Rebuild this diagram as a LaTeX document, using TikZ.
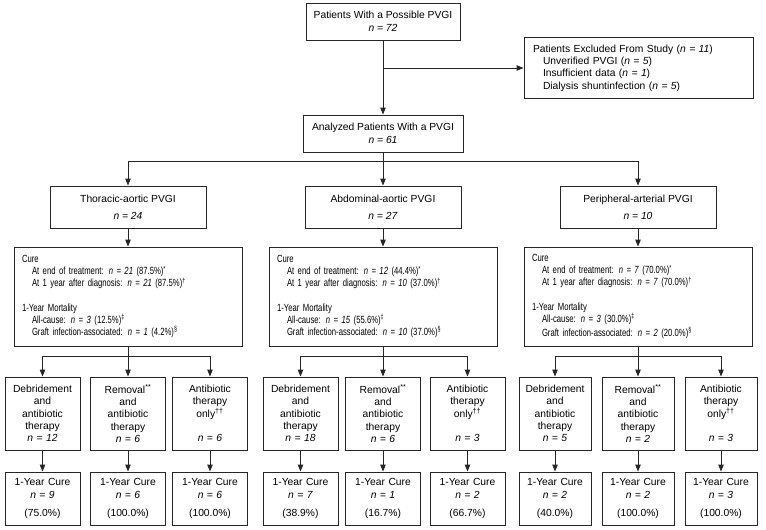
\documentclass[tikz,border=0pt]{standalone}
\usepackage{fontspec}
\setmainfont{Liberation Sans}
\newfontfamily\narrowsans[FakeStretch=0.74]{Liberation Sans}
\usetikzlibrary{arrows.meta}
\newcommand{\nn}[1]{\textit{n = #1}}
\newcommand{\indt}{\hspace*{10pt}}

\begin{document}
\begin{tikzpicture}[x=1pt,y=-1pt,font=\fontsize{10.3}{12.3}\selectfont]
        \tikzstyle{box}=[draw=black!85,line width=0.9pt,align=center,inner sep=2pt]
        \tikzstyle{head}=[box,minimum height=37pt,font=\fontsize{10.3}{13}\selectfont]
        \tikzstyle{group}=[box,minimum width=156pt,minimum height=42pt]
        \tikzstyle{cure}=[box,align=left,text width=212pt,inner xsep=8pt,minimum height=99pt,font=\narrowsans\fontsize{10.4}{12.2}\selectfont]
        \tikzstyle{treat}=[box,text width=71pt,minimum height=73pt]
        \tikzstyle{treatr}=[box,text width=68pt,minimum height=73pt]
        \tikzstyle{result}=[box,text width=71pt,minimum height=53pt]
        \tikzstyle{resultr}=[box,text width=68pt,minimum height=53pt]
        \tikzstyle{line}=[draw=black!85,line width=0.9pt]
        \tikzstyle{arr}=[line,-{Triangle[length=7pt,width=5.5pt]}]
        \useasboundingbox (0,0) rectangle (766,530);

         \node [head,minimum width=154pt] (possible) at (383,21.5) {Patients With a Possible PVGI\\\nn{72}};
         \node [box,align=left,text width=211pt,inner xsep=9pt,minimum height=61pt] (excluded) at (638.5,68)
           {Patients Excluded From Study (\nn{11})\\
            \indt Unverified PVGI (\nn{5})\\
            \indt Insufficient data (\nn{1})\\
            \indt Dialysis shuntinfection (\nn{5})};
         \node [head,minimum width=160pt] (analyzed) at (383,133.5) {Analyzed Patients With a PVGI\\\nn{61}};
         \coordinate (split) at (383,68);
         \coordinate (b0) at (383,161);

         \node [group] (thoracic) at (128,207) {Thoracic-aortic PVGI\\[5pt]\nn{24}};
         \node [group] (abdominal) at (383,207) {Abdominal-aortic PVGI\\[5pt]\nn{27}};
         \node [group] (peripheral) at (638,207) {Peripheral-arterial PVGI\\[5pt]\nn{10}};

         \node [cure] (cureT) at (128,296.5)
           {Cure\\
            \indt At end of treatment: \nn{21} (87.5\%)\textsuperscript{*}\\
            \indt At 1 year after diagnosis: \nn{21} (87.5\%)\textsuperscript{†}\\[12pt]
            1-Year Mortality\\
            \indt All-cause: \nn{3} (12.5\%)\textsuperscript{‡}\\
            \indt Graft infection-associated: \nn{1} (4.2\%)\textsuperscript{§}};
         \node [cure] (cureA) at (383,296.5)
           {Cure\\
            \indt At end of treatment: \nn{12} (44.4\%)\textsuperscript{*}\\
            \indt At 1 year after diagnosis: \nn{10} (37.0\%)\textsuperscript{†}\\[12pt]
            1-Year Mortality\\
            \indt All-cause: \nn{15} (55.6\%)\textsuperscript{‡}\\
            \indt Graft infection-associated: \nn{10} (37.0\%)\textsuperscript{§}};
         \node [cure] (cureP) at (638,296.5)
           {Cure\\
            \indt At end of treatment: \nn{7} (70.0\%)\textsuperscript{*}\\
            \indt At 1 year after diagnosis: \nn{7} (70.0\%)\textsuperscript{†}\\[12pt]
            1-Year Mortality\\
            \indt All-cause: \nn{3} (30.0\%)\textsuperscript{‡}\\[2pt]
            \indt Graft infection-associated: \nn{2} (20.0\%)\textsuperscript{§}};
         \coordinate (bT) at (128,356);
         \coordinate (bA) at (383,356);
         \coordinate (bP) at (638,356);

         \node [treat] (debT) at (42.5,413.5) {Debridement\\and\\antibiotic\\therapy\\\nn{12}};
         \node [treat] (remT) at (128,413.5) {Removal\textsuperscript{**}\\and\\antibiotic\\therapy\\\nn{6}};
         \node [treat] (antT) at (210,413.5) {Antibiotic\\therapy\\only\textsuperscript{††}\\~\\\nn{6}};
         \node [treat] (debA) at (300.5,413.5) {Debridement\\and\\antibiotic\\therapy\\\nn{18}};
         \node [treat] (remA) at (383,413.5) {Removal\textsuperscript{**}\\and\\antibiotic\\therapy\\\nn{6}};
         \node [treat] (antA) at (467.5,413.5) {Antibiotic\\therapy\\only\textsuperscript{††}\\~\\\nn{3}};
         \node [treatr] (debP) at (555,413.5) {Debridement\\and\\antibiotic\\therapy\\\nn{5}};
         \node [treatr] (remP) at (638,413.5) {Removal\textsuperscript{**}\\and\\antibiotic\\therapy\\\nn{2}};
         \node [treatr] (antP) at (721,413.5) {Antibiotic\\therapy\\only\textsuperscript{††}\\~\\\nn{3}};

         \node [result] (resDT) at (42.5,498.5) {1-Year Cure\\\nn{9}\\[6pt](75.0\%)};
         \node [result] (resRT) at (128,498.5) {1-Year Cure\\\nn{6}\\[6pt](100.0\%)};
         \node [result] (resAT) at (210,498.5) {1-Year Cure\\\nn{6}\\[6pt](100.0\%)};
         \node [result] (resDA) at (300.5,498.5) {1-Year Cure\\\nn{7}\\[6pt](38.9\%)};
         \node [result] (resRA) at (383,498.5) {1-Year Cure\\\nn{1}\\[6pt](16.7\%)};
         \node [result] (resAA) at (467.5,498.5) {1-Year Cure\\\nn{2}\\[6pt](66.7\%)};
         \node [resultr] (resDP) at (555,498.5) {1-Year Cure\\\nn{2}\\[6pt](40.0\%)};
         \node [resultr] (resRP) at (638,498.5) {1-Year Cure\\\nn{2}\\[6pt](100.0\%)};
         \node [resultr] (resAP) at (721,498.5) {1-Year Cure\\\nn{3}\\[6pt](100.0\%)};

         \path (possible) edge[arr] (analyzed);
         \path (split) edge[arr] (excluded);
         \path (analyzed) edge[line] (b0);
         \draw[arr] (b0) -| (thoracic);
         \draw[arr] (b0) -| (peripheral);
         \path (b0) edge[arr] (abdominal);
         \path (thoracic) edge[arr] (cureT);
         \path (abdominal) edge[arr] (cureA);
         \path (peripheral) edge[arr] (cureP);

         \path (cureT) edge[line] (bT);
         \draw[arr] (bT) -| (debT);
         \draw[arr] (bT) -| (antT);
         \path (bT) edge[arr] (remT);
         \path (cureA) edge[line] (bA);
         \draw[arr] (bA) -| (debA);
         \draw[arr] (bA) -| (antA);
         \path (bA) edge[arr] (remA);
         \path (cureP) edge[line] (bP);
         \draw[arr] (bP) -| (debP);
         \draw[arr] (bP) -| (antP);
         \path (bP) edge[arr] (remP);

         \path (debT) edge[arr] (resDT);
         \path (remT) edge[arr] (resRT);
         \path (antT) edge[arr] (resAT);
         \path (debA) edge[arr] (resDA);
         \path (remA) edge[arr] (resRA);
         \path (antA) edge[arr] (resAA);
         \path (debP) edge[arr] (resDP);
         \path (remP) edge[arr] (resRP);
         \path (antP) edge[arr] (resAP);
      \end{tikzpicture}
\end{document}
